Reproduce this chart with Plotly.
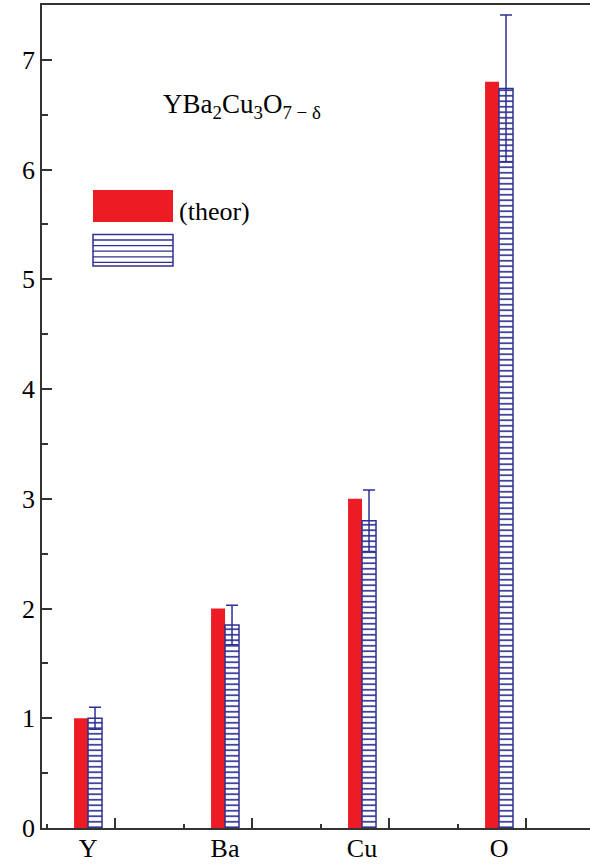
import plotly.graph_objects as go

categories = ["Y", "Ba", "Cu", "O"]
positions = [1, 2, 3, 4]
theor = [1.0, 2.0, 3.0, 6.8]
measured = [1.0, 1.85, 2.8, 6.74]
measured_err = [0.1, 0.18, 0.28, 0.67]
y_ticks = [0, 1, 2, 3, 4, 5, 6, 7]

RED = "#ed1c24"
BLUE = "#2e3192"
AXC = "#333333"
FONT = "Liberation Serif, Times New Roman, serif"

W, H = 590, 868
L, R, T, B = 42, 0, 5, 40
PW, PH = W - L - R, H - T - B


def px(x):
    return (x - L) / PW


def py(y):
    return (H - B - y) / PH


fig = go.Figure()
fig.add_trace(go.Bar(
    x=positions, y=theor, name="(theor)",
    marker=dict(color=RED, line=dict(width=0)),
))
fig.add_trace(go.Bar(
    x=positions, y=measured, name="",
    marker=dict(color="white", line=dict(color=BLUE, width=1.5),
                pattern=dict(shape="-", fgcolor=BLUE, bgcolor="white",
                             size=5.5, solidity=0.3, fillmode="replace")),
    error_y=dict(type="data", array=measured_err, color=BLUE,
                 thickness=1.5, width=6),
))
fig.add_trace(go.Scatter(x=[None], y=[None], xaxis="x2", showlegend=False))

xr = [0.664, 4.664]
fig.update_layout(
    width=W, height=H,
    margin=dict(l=L, r=R, t=T, b=B),
    paper_bgcolor="white", plot_bgcolor="white",
    barmode="group", bargap=0.796, bargroupgap=0,
    showlegend=False,
    font=dict(family=FONT, size=25, color="black"),
    xaxis=dict(range=xr, tickvals=positions, ticktext=categories,
               ticks="", showline=True, linecolor=AXC, linewidth=1.5,
               mirror=True, showgrid=False, zeroline=False,
               ticklabelstandoff=-4,
               tickfont=dict(family=FONT, size=26)),
    xaxis2=dict(range=xr, overlaying="x", side="bottom", anchor="y",
                showticklabels=False, ticks="inside", ticklen=10,
                tickwidth=1.5, tickcolor=AXC,
                tickvals=[p + 0.2 for p in positions],
                minor=dict(tickvals=[p - 0.3 for p in positions],
                           ticks="inside", ticklen=4, tickwidth=1.5,
                           tickcolor=AXC),
                showgrid=False, zeroline=False, showline=False),
    yaxis=dict(range=[0, 7.5], tickvals=y_ticks, ticks="inside",
               ticklen=10, tickwidth=1.5, tickcolor=AXC,
               minor=dict(dtick=0.5, ticks="inside", ticklen=6,
                          tickwidth=1.5, tickcolor=AXC),
               showline=True, linecolor=AXC, linewidth=1.5,
               showgrid=False, zeroline=False,
               tickfont=dict(family=FONT, size=26)),
)

shapes = [
    dict(type="rect", xref="paper", yref="paper",
         x0=px(93), x1=px(173), y0=py(222), y1=py(190),
         fillcolor=RED, line=dict(width=0)),
    dict(type="rect", xref="paper", yref="paper",
         x0=px(93), x1=px(173), y0=py(266), y1=py(234.5),
         fillcolor="white", line=dict(color=BLUE, width=1.5)),
]
for yy in [240, 245.6, 251.2, 256.8, 262.4]:
    shapes.append(dict(type="line", xref="paper", yref="paper",
                       x0=px(93), x1=px(173), y0=py(yy), y1=py(yy),
                       line=dict(color=BLUE, width=1.3)))
fig.update_layout(shapes=shapes)

fig.add_annotation(xref="paper", yref="paper", x=px(177), y=py(211),
                   xanchor="left", yanchor="middle", showarrow=False,
                   text="(theor)", font=dict(family=FONT, size=26))
fig.add_annotation(xref="paper", yref="paper", x=px(161), y=py(106),
                   xanchor="left", yanchor="middle", showarrow=False,
                   text="YBa<sub>2</sub>Cu<sub>3</sub>O<sub>7 − δ</sub>",
                   font=dict(family=FONT, size=27))

fig.write_html("out.html",
               config={"displayModeBar": False},
               post_script="document.body.style.margin='0';"
                           "document.body.style.overflow='hidden';")
